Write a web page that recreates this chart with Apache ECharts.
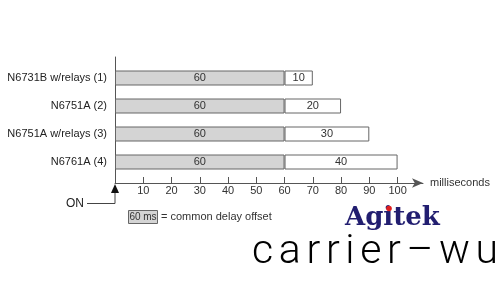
<!DOCTYPE html>
<html><head><meta charset="utf-8">
<script src="https://cdn.jsdelivr.net/npm/echarts@6/dist/echarts.min.js"></script>
<style>html,body{margin:0;padding:0;background:#fff}#c{width:500px;height:300px}</style>
</head><body><div id="c"></div>
<script>
const categories = ['N6731B w/relays (1)', 'N6751A (2)', 'N6751A w/relays (3)', 'N6761A (4)'];
const offsetValues = [60, 60, 60, 60];
const extraValues = [10, 20, 30, 40];
const tickValues = [10, 20, 30, 40, 50, 60, 70, 80, 90, 100];

const chart = echarts.init(document.getElementById('c'), null, {renderer: 'canvas'});
const font = 'Liberation Sans, Arial, sans-serif';
const L = 115, R = 77;

// letter-spaced watermark text
const wmFont = '300 41px Roboto, sans-serif';
const mctx = document.createElement('canvas').getContext('2d');
mctx.font = wmFont;
const wmChars = 'carrier\u2013wu'.split('');
const widths = wmChars.map(ch => mctx.measureText(ch).width);
const totalW = widths.reduce((a, b) => a + b, 0);
const spacing = (246 - totalW) / (wmChars.length - 1);
let cx = 252;
const wmGraphics = wmChars.map((ch, i) => {
  const g = {type: 'text', style: {x: cx, y: 253, text: ch, font: wmFont, fill: '#000', align: 'left', verticalAlign: 'middle'}};
  cx += widths[i] + spacing;
  return g;
});

chart.setOption({
  animation: false,
  backgroundColor: '#fff',
  grid: [
    {left: L, right: R, top: 57, bottom: 117, containLabel: false, outerBoundsMode: 'none'},
    {left: L, right: R, top: 64, bottom: 124, containLabel: false, outerBoundsMode: 'none'}
  ],
  xAxis: [
    {gridIndex: 0, type: 'value', min: 0, max: 109, interval: 10,
     splitLine: {show: false},
     axisLine: {show: true, lineStyle: {color: '#555', width: 1}, symbol: ['none', 'arrow'], symbolSize: [7, 11], symbolOffset: [0, 0]},
     axisTick: {show: true, inside: true, length: 6, lineStyle: {color: '#555'}, customValues: tickValues},
     axisLabel: {show: true, color: '#333', fontFamily: font, fontSize: 11, margin: 2, customValues: tickValues},
     name: 'milliseconds', nameLocation: 'end', nameGap: 7,
     nameTextStyle: {color: '#333', fontFamily: font, fontSize: 11}},
    {gridIndex: 1, type: 'value', min: 0, max: 109, show: false}
  ],
  yAxis: [
    {gridIndex: 0, type: 'value', min: 0, max: 1,
     axisLine: {show: true, lineStyle: {color: '#555', width: 1}},
     axisTick: {show: false}, axisLabel: {show: false}, splitLine: {show: false}},
    {gridIndex: 1, type: 'category', data: categories, inverse: true,
     axisLine: {show: false}, axisTick: {show: false}, splitLine: {show: false},
     axisLabel: {color: '#222', fontFamily: font, fontSize: 11, margin: 8}}
  ],
  series: [
    {type: 'bar', xAxisIndex: 1, yAxisIndex: 1, stack: 't', data: offsetValues, barWidth: 15,
     itemStyle: {color: '#d4d4d4', borderColor: '#666', borderWidth: 1},
     label: {show: true, position: 'inside', color: '#333', fontFamily: font, fontSize: 11}},
    {type: 'bar', xAxisIndex: 1, yAxisIndex: 1, stack: 't', data: extraValues, barWidth: 15,
     itemStyle: {color: '#fff', borderColor: '#666', borderWidth: 1},
     label: {show: true, position: 'inside', color: '#333', fontFamily: font, fontSize: 11}}
  ],
  graphic: [
    {type: 'polygon', shape: {points: [[115, 184], [111, 193], [119, 193]]}, style: {fill: '#111'}},
    {type: 'polyline', shape: {points: [[115, 193], [115, 203.5], [87, 203.5]]}, style: {stroke: '#444', lineWidth: 1, fill: null}},
    {type: 'text', style: {x: 66, y: 204, text: 'ON', font: '12px ' + font, fill: '#222', verticalAlign: 'middle'}},
    {type: 'rect', shape: {x: 128.5, y: 210.5, width: 29, height: 13}, style: {fill: '#d4d4d4', stroke: '#666', lineWidth: 1}},
    {type: 'text', style: {x: 143, y: 217, text: '60 ms', font: '10px ' + font, fill: '#333', align: 'center', verticalAlign: 'middle'}},
    {type: 'text', style: {x: 161, y: 217, text: '= common delay offset', font: '11px ' + font, fill: '#333', verticalAlign: 'middle'}},
    {type: 'text', style: {x: 345, y: 218, text: 'Agitek', font: 'bold 26px DejaVu Serif, serif', fill: '#221e70', verticalAlign: 'middle'}},
    {type: 'circle', shape: {cx: 389, cy: 208.5, r: 2.8}, style: {fill: '#e02020'}}
  ].concat(wmGraphics)
});
</script></body></html>
